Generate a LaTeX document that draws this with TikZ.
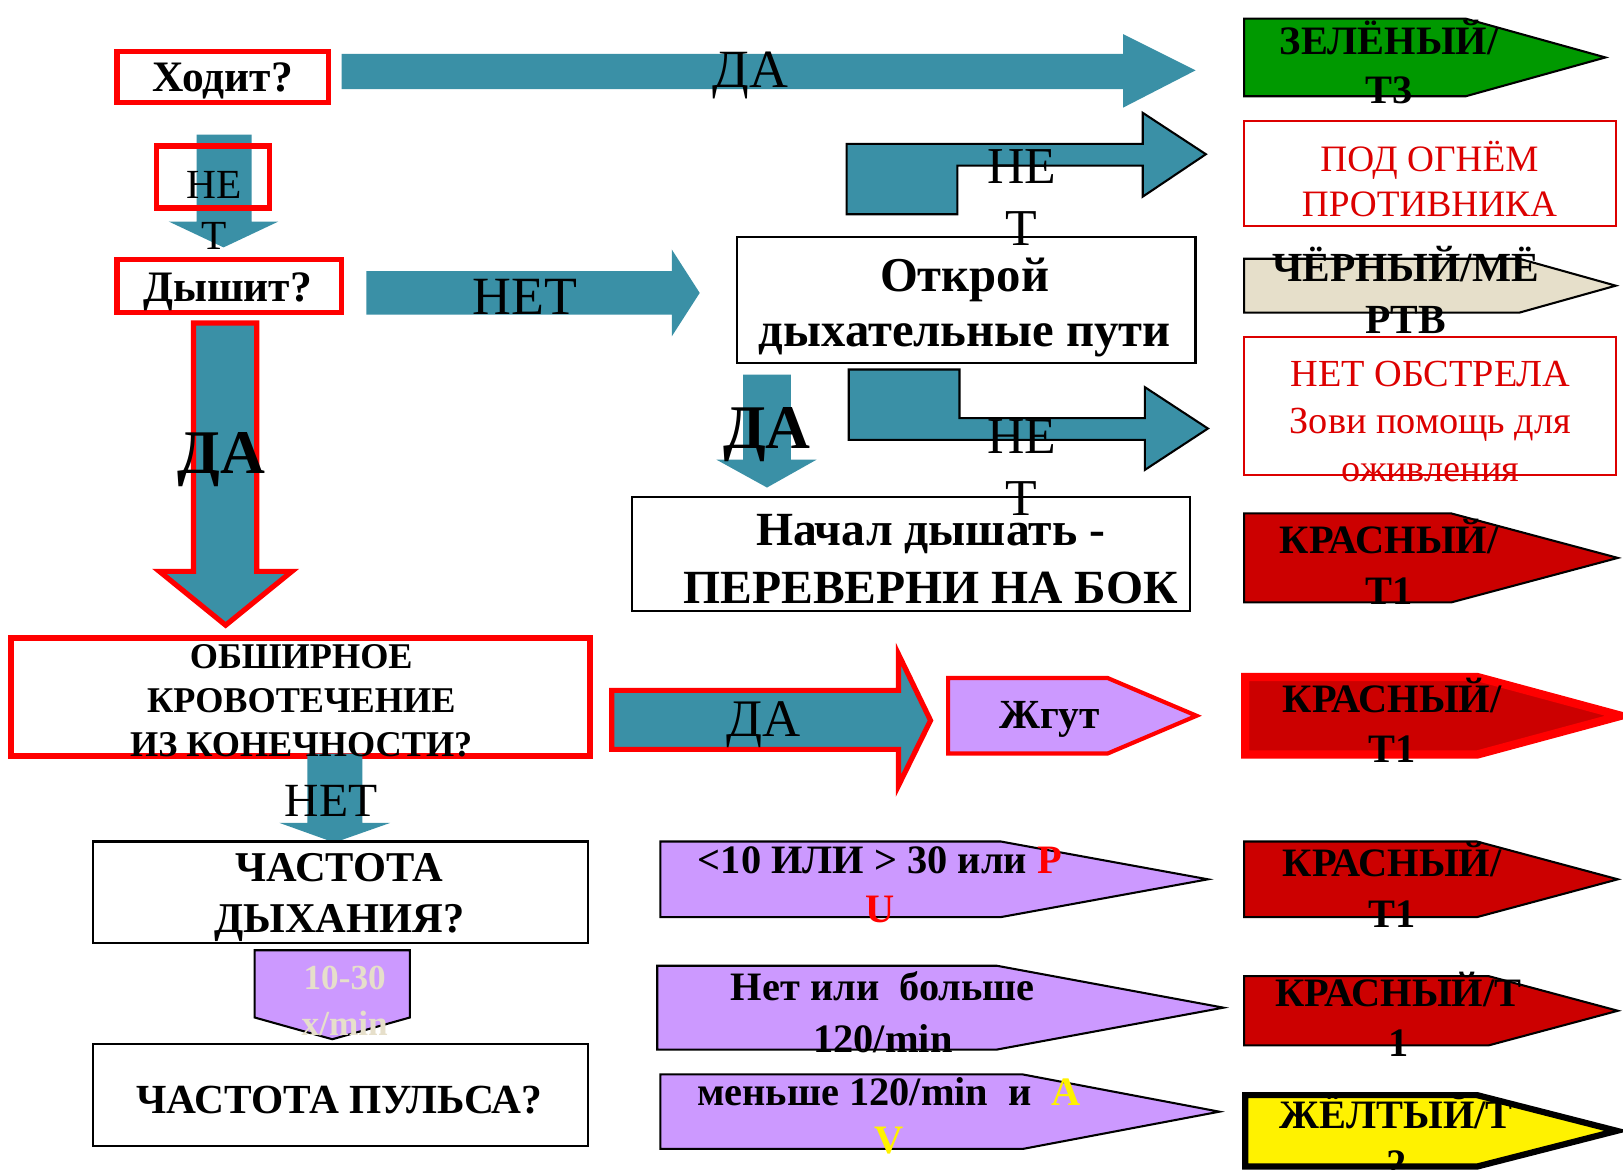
\documentclass[tikz,border=0pt]{standalone}
\usepackage{fontspec}
\setmainfont{Liberation Serif}
\definecolor{arrowteal}{RGB}{58,144,166}
\definecolor{tagviolet}{HTML}{CC99FF}
\definecolor{taggreen}{HTML}{009900}
\definecolor{tagred}{HTML}{CC0000}
\definecolor{tagbeige}{RGB}{230,223,202}
\definecolor{textred}{RGB}{220,0,0}
\newcommand{\fsz}[2]{\fontsize{#1}{#2}\selectfont}
% pentagon tag: style, left, top, body end, tip, bottom
\newcommand{\tagarrow}[6]{\filldraw[#1] (#2,#3) -- (#4,#3) -- (#5,{(#3+#6)/2}) -- (#4,#6) -- (#2,#6) -- cycle;}
\begin{document}
\begin{tikzpicture}[x=0.5pt,y=-0.5pt,line join=miter,
	lbl/.style={inner sep=0pt,align=center,yshift=-1.5pt},
	redframe/.style={draw=red,line width=2.5pt},
	blackframe/.style={draw=black,line width=1pt,fill=white},
	thinred/.style={draw=textred,line width=1pt,fill=white},
	blockarrow/.style={fill=arrowteal},
	tagline/.style={draw=black,line width=1pt}]
	\fill[white] (0,0) rectangle (1568,1130);
	\useasboundingbox (0,0) rectangle (1568,1130);
	%
	% left column
	\draw[redframe] (113,50) rectangle (317,99);
	\fill[blockarrow] (190,130) -- (243,130) -- (243,214) -- (269,214) -- (216,239) -- (163,214) -- (190,214) -- cycle;
	\draw[redframe] (151,141) rectangle (260,201);
	\draw[redframe] (113,251) rectangle (330,302);
	\filldraw[blockarrow,draw=red,line width=2.5pt] (187,312) -- (248,312) -- (248,552) -- (282,552) -- (218,604) -- (154,552) -- (187,552) -- cycle;
	\draw[red,line width=3pt] (11,616) rectangle (570,730);
	\fill[blockarrow] (297,728) -- (350,728) -- (350,795) -- (377,795) -- (323,814) -- (270,795) -- (297,795) -- cycle;
	\draw[blackframe] (90,813) rectangle (568,911);
	\filldraw[tagline,fill=tagviolet] (246,918) -- (396,918) -- (396,983) -- (321,1004) -- (246,983) -- cycle;
	\draw[blackframe] (90,1009) rectangle (568,1107);
	%
	% middle column
	\fill[blockarrow] (330,52) -- (1085,52) -- (1085,33) -- (1155,68) -- (1085,104) -- (1085,86) -- (330,86) -- cycle;
	\filldraw[blockarrow,draw=black,line width=1pt] (818,139) -- (1104,139) -- (1104,109) -- (1165,149) -- (1104,190) -- (1104,160) -- (925,160) -- (925,207) -- (818,207) -- cycle;
	\fill[blockarrow] (354,262) -- (649,262) -- (649,241) -- (676,283) -- (649,325) -- (649,304) -- (354,304) -- cycle;
	\draw[blackframe] (712,229) rectangle (1155,351);
	\fill[blockarrow] (718,362) -- (764,362) -- (764,444) -- (789,444) -- (741,471) -- (692,444) -- (718,444) -- cycle;
	\filldraw[blockarrow,draw=black,line width=1pt] (820,357) -- (927,357) -- (927,404) -- (1106,404) -- (1106,374) -- (1167,414) -- (1106,454) -- (1106,425) -- (820,425) -- cycle;
	\draw[blackframe] (611,480) rectangle (1150,590);
	\filldraw[blockarrow,draw=red,line width=2.5pt] (591,667) -- (868,667) -- (868,632) -- (899,696) -- (868,759) -- (868,724) -- (591,724) -- cycle;
	\tagarrow{draw=red,line width=2pt,fill=tagviolet}{916}{655}{1070}{1156}{728}
	\tagarrow{tagline,fill=tagviolet}{638}{813}{967}{1167}{886}
	\tagarrow{tagline,fill=tagviolet}{635}{933}{963}{1182}{1014}
	\tagarrow{tagline,fill=tagviolet}{638}{1038}{988}{1178}{1110}
	%
	% right column
	\tagarrow{tagline,fill=taggreen}{1202}{18}{1416}{1551}{93}
	\draw[thinred] (1202,117) rectangle (1561,218);
	\tagarrow{tagline,fill=tagbeige}{1202}{250}{1468}{1561}{302}
	\draw[thinred] (1202,326) rectangle (1561,459);
	\tagarrow{tagline,fill=tagred}{1202}{496}{1402}{1563}{582}
	\tagarrow{draw=red,line width=4pt,fill=tagred}{1203}{654}{1427}{1566}{729}
	\tagarrow{tagline,fill=tagred}{1202}{813}{1427}{1563}{886}
	\tagarrow{tagline,fill=tagred}{1202}{943}{1438}{1563}{1010}
	\tagarrow{draw=black,line width=3pt,fill=yellow}{1203}{1058}{1427}{1562}{1127}
	%
	% labels
	\node[lbl,font=\bfseries\fsz{21}{25}] (hodit) at (215,75) {Ходит?};
	\node[lbl,font=\fsz{26}{30}] (daWalk) at (725,70) {ДА};
	\node[lbl,font=\bfseries\fsz{19.5}{23.5}] (tagGreen) at (1342,57) {ЗЕЛЁНЫЙ/\\Т3};
	\node[lbl,font=\fsz{20}{24.5}] (netWalk) at (207,200) {НЕ\\Т};
	\node[lbl,font=\fsz{25}{30}] (netFire) at (987,188) {НЕ\\Т};
	\node[lbl,text=textred,font=\fsz{18}{21.5}] (underFire) at (1381,170) {ПОД ОГНЁМ\\ПРОТИВНИКА};
	\node[lbl,font=\bfseries\fsz{21}{25}] (dyshit) at (220,279) {Дышит?};
	\node[lbl,font=\fsz{26}{30}] (netBreath) at (507,284) {НЕТ};
	\node[lbl,font=\bfseries\fsz{23.5}{26.5}] (airway) at (932,294) {Открой\\дыхательные пути};
	\node[lbl,font=\bfseries\fsz{20}{25}] (tagBlack) at (1358,277) {ЧЁРНЫЙ/МЁ\\РТВ};
	\node[lbl,font=\bfseries\fsz{30}{34}] (daBreath) at (214,441) {ДА};
	\node[lbl,font=\bfseries\fsz{30}{34}] (daAirway) at (741,417) {ДА};
	\node[lbl,font=\fsz{25}{30}] (netNoFire) at (987,449) {НЕ\\Т};
	\node[lbl,text=textred,font=\fsz{18.5}{23}] (noFire) at (1382,404) {НЕТ ОБСТРЕЛА\\Зови помощь для\\оживления};
	\node[lbl,font=\bfseries\fsz{23}{28}] (turnSide) at (899,537) {Начал дышать -\\ПЕРЕВЕРНИ НА БОК};
	\node[lbl,font=\bfseries\fsz{19.5}{24.5}] (tagRedA) at (1342,540) {КРАСНЫЙ/\\Т1};
	\node[lbl,font=\bfseries\fsz{17.5}{21.25}] (bleed) at (291,674) {ОБШИРНОЕ\\КРОВОТЕЧЕНИЕ\\ИЗ КОНЕЧНОСТИ?};
	\node[lbl,font=\fsz{25.5}{30}] (daBleed) at (738,697) {ДА};
	\node[lbl,font=\bfseries\fsz{20}{24}] (tourniquet) at (1014,692) {Жгут};
	\node[lbl,font=\bfseries\fsz{19.5}{24.5}] (tagRedB) at (1345,693) {КРАСНЫЙ/\\Т1};
	\node[lbl,font=\fsz{23}{27}] (netBleed) at (320,771) {НЕТ};
	\node[lbl,font=\bfseries\fsz{20.5}{25}] (respRate) at (328,864) {ЧАСТОТА\\ДЫХАНИЯ?};
	\node[lbl,font=\bfseries\fsz{19.5}{23.5}] (rateBad) at (850,852) {<10 ИЛИ > 30 или \textcolor{red}{P}\\\textcolor{red}{U}};
	\node[lbl,font=\bfseries\fsz{19.5}{24.5}] (tagRedC) at (1345,852) {КРАСНЫЙ/\\Т1};
	\node[lbl,text=tagbeige,font=\bfseries\fsz{17}{22}] (rateOk) at (333,964) {10-30\\x/min};
	\node[lbl,font=\bfseries\fsz{19.5}{25}] (pulseBad) at (853,975) {Нет или \ больше\\120/min};
	\node[lbl,font=\bfseries\fsz{19.5}{24.5}] (tagRedD) at (1351,977) {КРАСНЫЙ/Т\\1};
	\node[lbl,font=\bfseries\fsz{20}{24}] (pulseRate) at (328,1060) {ЧАСТОТА ПУЛЬСА?};
	\node[lbl,font=\bfseries\fsz{19.5}{23.5}] (pulseOk) at (859,1075) {меньше 120/min \ и \ \textcolor{yellow}{A}\\\textcolor{yellow}{V}};
	\node[lbl,font=\bfseries\fsz{19.5}{23.5}] (tagYellow) at (1349,1094) {ЖЁЛТЫЙ/Т\\2};
\end{tikzpicture}
\end{document}
